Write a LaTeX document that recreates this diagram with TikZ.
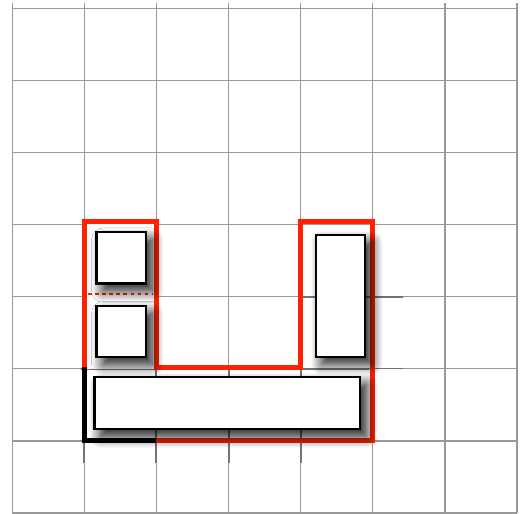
\documentclass[tikz,border=0pt]{standalone}
\usepackage{xcolor}
\usepackage{tikz}
\usetikzlibrary{shadows.blur,positioning}

\definecolor{binred}{RGB}{255,34,0}

\begin{document}
\begin{tikzpicture}[
    x=1cm, y=1.011cm,
    piece/.style={rectangle, draw=black, fill=white, line width=0.9pt, inner sep=0pt, blur shadow={shadow xshift=0.09cm, shadow yshift=-0.1cm, shadow blur radius=0.16cm, shadow blur steps=12, shadow opacity=95}},
    gridline/.style={draw=gray!80, line width=0.5pt},
    darkgrid/.style={draw=black!55, line width=0.8pt},
    outline/.style={draw=binred, line width=1.9pt, line join=miter},
    corner/.style={draw=black, line width=2pt, line join=miter}
]

\useasboundingbox (-0.17,0) rectangle (7.166,7.037);

% Grid
\draw[gridline] (0,0) grid (7,7);

% Darker grid under the shadows
\begin{scope}
    \clip (0.95,0.69) rectangle (4.95,1.98);
    \draw[darkgrid] (0,0) grid (7,7);
\end{scope}
\begin{scope}
    \clip (4.0,1.98) rectangle (5.42,3.9);
    \draw[darkgrid] (0,0) grid (7,7);
\end{scope}

% Left arm
\fill[white] (1,1.97) rectangle (2,4);
\draw[binred, line width=0.8pt, dash pattern=on 1.4pt off 1.4pt] (1.05,3) -- (1.95,3);

% Outline of the bin
\draw[outline] (2,1) -- (5,1) -- (5,4) -- (4,4) -- (4,2) -- (2,2) -- (2,4) -- (1,4) -- (1,2);
\draw[corner] (1,2) -- (1,1) -- (2,1);

% Pieces
\node[piece, minimum width=0.68cm, minimum height=0.71cm] (sqtop) at (1.51,3.5) {};
\node[piece, minimum width=0.68cm, minimum height=0.71cm] (sqlow) at (1.51,2.49) {};
\node[piece, minimum width=0.68cm, minimum height=1.69cm] (tall) at (4.55,2.98) {};
\node[piece, minimum width=3.68cm, minimum height=0.72cm] (wide) at (2.98,1.505) {};

\end{tikzpicture}
\end{document}
